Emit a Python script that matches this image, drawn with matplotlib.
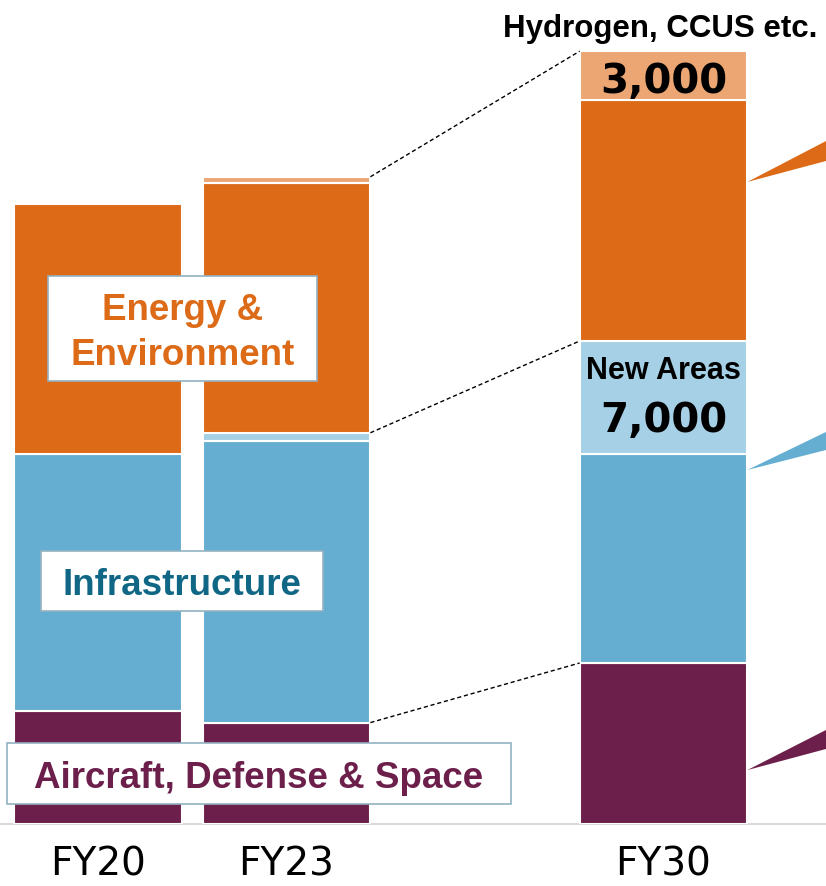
import numpy as np
from matplotlib import pyplot as plt
from matplotlib.patches import Rectangle, Polygon

YEARS = ['FY20', 'FY23', 'FY30']
AIRCRAFT = [7000, 6300, 10000]
INFRA = [16000, 17500, 13000]
NEW_AREAS = [0, 500, 7000]
ENERGY = [15500, 15500, 15000]
HYDROGEN = [0, 400, 3000]

PURPLE = '#6B1F4A'
BLUE = '#65AED2'
LIGHT_BLUE = '#A5D0E5'
ORANGE = '#DC6A16'
LIGHT_ORANGE = '#ECA673'
BOX_EDGE = '#93B2C1'
INFRA_TEXT = '#0F6685'

ARIAL = 'Liberation Sans'


def label_box(ax, rect, lines, color):
    # white framed label, rect and baselines in axes fraction
    x0, y0, w, h = rect
    ax.add_patch(Rectangle((x0, y0), w, h, transform=ax.transAxes, fc='white',
                           ec=BOX_EDGE, lw=1.2, zorder=5, clip_on=False))
    for text, y in lines:
        ax.text(x0 + w / 2, y, text, transform=ax.transAxes, ha='center', va='baseline',
                fontsize=26.5, fontweight='bold', family=ARIAL, color=color, zorder=6)


def main():
    fig = plt.figure(figsize=(8.26, 8.87), dpi=100)
    ax = fig.add_axes([0, 62 / 887, 1, 825 / 887])
    x = np.array([0, 1, 3])
    width = 0.89

    segments = [
        (AIRCRAFT, PURPLE),
        (INFRA, BLUE),
        (NEW_AREAS, LIGHT_BLUE),
        (ENERGY, ORANGE),
        (HYDROGEN, LIGHT_ORANGE),
    ]
    bottom = np.zeros(len(x))
    tops = []
    for vals, color in segments:
        vals = np.array(vals, dtype=float)
        keep = vals > 0
        ax.bar(x[keep], vals[keep], width, bottom=bottom[keep], color=color,
               edgecolor='white', linewidth=1.5, zorder=2)
        bottom = bottom + vals
        tops.append(bottom.copy())

    ax.set_xlim(-0.52, 3.862)
    ax.set_ylim(0, 825 / 16.1 * 1000)

    # dashed guides from FY23 to FY30
    x_from = x[1] + width / 2
    x_to = x[2] - width / 2
    for lvl in (tops[0], tops[2], tops[4]):
        ax.plot([x_from, x_to], [lvl[1], lvl[2]], color='black', lw=1,
                ls=(0, (3, 2)), zorder=3)

    # callout wedges going off to the right
    right = ax.get_xlim()[1]
    edge = x[2] + width / 2
    wedges = [
        (ORANGE, 39880, 42420, 41180),
        (BLUE, 21990, 24350, 23230),
        (PURPLE, 3350, 5840, 4660),
    ]
    for color, tip, hi, lo in wedges:
        ax.add_patch(Polygon([(edge, tip), (right, hi), (right, lo)], closed=True,
                             fc=color, ec='none', zorder=2))

    # FY30 annotations
    h_bot = tops[3][2]
    ax.text(x[2], h_bot + 0.157 * HYDROGEN[2], f'{HYDROGEN[2]:,}', ha='center',
            va='baseline', fontsize=29, fontweight='bold', family='DejaVu Sans', zorder=4)
    ax.text(x[2] - 0.02, tops[4][2] + 940, 'Hydrogen, CCUS etc.', ha='center',
            va='baseline', fontsize=22.5, fontweight='bold', family=ARIAL, zorder=4)
    n_bot = tops[1][2]
    ax.text(x[2], n_bot + 0.671 * NEW_AREAS[2], 'New Areas', ha='center', va='baseline',
            fontsize=22, fontweight='bold', family=ARIAL, zorder=4)
    ax.text(x[2], n_bot + 0.201 * NEW_AREAS[2], f'{NEW_AREAS[2]:,}', ha='center',
            va='baseline', fontsize=29, fontweight='bold', family='DejaVu Sans', zorder=4)

    label_box(ax, (0.0581, 0.537, 0.3257, 0.127),
              [('Energy &', 0.6121), ('Environment', 0.5576)], ORANGE)
    label_box(ax, (0.0496, 0.2582, 0.3414, 0.0727),
              [('Infrastructure', 0.2788)], INFRA_TEXT)
    label_box(ax, (0.0085, 0.0242, 0.6102, 0.074),
              [('Aircraft, Defense & Space', 0.0448)], PURPLE)

    ax.set_xticks(x, YEARS, fontsize=28, family='DejaVu Sans')
    ax.tick_params(axis='x', length=0, pad=15)
    ax.set_yticks([])
    for side in ('top', 'left', 'right'):
        ax.spines[side].set_visible(False)
    ax.spines['bottom'].set_color('#D9D9D9')
    ax.spines['bottom'].set_linewidth(1.5)
    ax.spines['bottom'].set_zorder(1)

    fig.savefig('out.png', dpi=100)


if __name__ == '__main__':
    main()
